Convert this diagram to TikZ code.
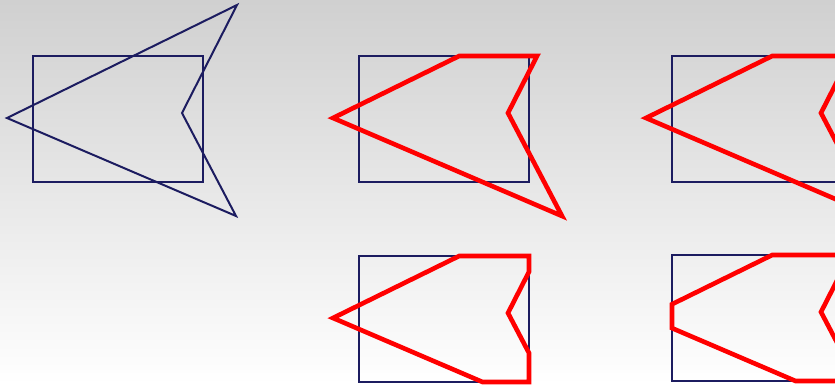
\documentclass[tikz,border=0pt]{standalone}
\usetikzlibrary{calc}

\definecolor{winblue}{RGB}{28,28,96}
\definecolor{bgtop}{RGB}{208,208,208}
\definecolor{bgmid}{RGB}{238,238,238}

\begin{document}
\begin{tikzpicture}[
    x=1pt, y=-1pt,
    window/.style={draw=winblue, line width=2pt},
    subject/.style={draw=winblue, line width=2pt, line join=miter},
    clipped/.style={draw=red, line width=4.6pt, line join=miter},
]

% Parameters (clip window size)
\def\Wd{170}
\def\Ht{126}

% window corners and polygon vertices, relative to the window's top left corner
\def\panelpoints{%
    \coordinate (wnw) at (0,0);
    \coordinate (wne) at (\Wd,0);
    \coordinate (wse) at (\Wd,\Ht);
    \coordinate (wsw) at (0,\Ht);
    \coordinate (T) at (204,-51);
    \coordinate (L) at (-26,62);
    \coordinate (B) at (203,160);
    \coordinate (N) at (149,57);
    \draw[window] (wnw) rectangle (wse);
}

% === Background ===
\useasboundingbox (0,0) rectangle (835,385);
\shade[top color=bgtop, middle color=bgmid, bottom color=white]
    (0,0) rectangle (835,385);

% === Original polygon ===
\begin{scope}[shift={(33,56)}]
    \panelpoints
    \draw[subject] (T) -- (L) -- (B) -- (N) -- cycle;
\end{scope}

% === Clipped against top edge ===
\begin{scope}[shift={(359,56)}]
    \panelpoints
    \draw[clipped] (intersection of T--L and wnw--wne) -- (L) -- (B) -- (N)
        -- (intersection of N--T and wnw--wne) -- cycle;
\end{scope}

% === Clipped against top and right edges ===
\begin{scope}[shift={(672,56)}]
    \panelpoints
    \draw[clipped] (L) -- (intersection of L--B and wne--wse)
        -- (intersection of B--N and wne--wse) -- (N)
        -- (intersection of N--T and wne--wse) -- (wne)
        -- (intersection of T--L and wnw--wne) -- cycle;
\end{scope}

% === Clipped against top, right and bottom edges ===
\begin{scope}[shift={(359,256)}]
    \panelpoints
    \draw[clipped] (intersection of L--B and wsw--wse) -- (wse)
        -- (intersection of B--N and wne--wse) -- (N)
        -- (intersection of N--T and wne--wse) -- (wne)
        -- (intersection of T--L and wnw--wne) -- (L) -- cycle;
\end{scope}

% === Clipped against all four edges ===
\begin{scope}[shift={(672,255)}]
    \panelpoints
    \draw[clipped] (intersection of L--B and wnw--wsw)
        -- (intersection of L--B and wsw--wse) -- (wse)
        -- (intersection of B--N and wne--wse) -- (N)
        -- (intersection of N--T and wne--wse) -- (wne)
        -- (intersection of T--L and wnw--wne)
        -- (intersection of T--L and wnw--wsw) -- cycle;
\end{scope}

\end{tikzpicture}
\end{document}
